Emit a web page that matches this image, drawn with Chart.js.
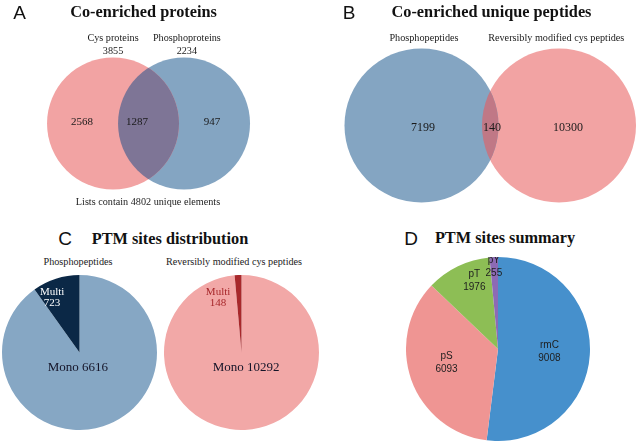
<!DOCTYPE html>
<html>
<head>
<meta charset="utf-8">
<script src="https://cdn.jsdelivr.net/npm/chart.js@4.4.1/dist/chart.umd.min.js"></script>
<style>
  html, body { margin: 0; padding: 0; background: #ffffff; }
  #stage { position: relative; width: 640px; height: 441px; overflow: hidden; background: #fff; }
  canvas { position: absolute; }
  .t { position: absolute; transform: translate(-50%, -50%); white-space: nowrap; color: #1a1a1a; line-height: 1; }
  .letter { font-family: "Liberation Sans", Arial, sans-serif; font-size: 19px; color: #111; }
  .title { font-family: "Liberation Serif", "Times New Roman", serif; font-weight: bold; font-size: 16.3px; color: #111; }
  .sub { font-family: "Liberation Serif", "Times New Roman", serif; font-size: 10.2px; color: #222; }
</style>
</head>
<body>
<div id="stage">
  <canvas id="vennA" width="320" height="220" style="left:0;top:0;width:320px;height:220px"></canvas>
  <canvas id="vennB" width="320" height="220" style="left:320px;top:0;width:320px;height:220px"></canvas>
  <canvas id="pieC1" width="155" height="155" style="left:2px;top:275px;width:155px;height:155px"></canvas>
  <canvas id="pieC2" width="155" height="155" style="left:164px;top:275px;width:155px;height:155px"></canvas>
  <canvas id="pieD" width="184" height="184" style="left:406px;top:257px;width:184px;height:184px"></canvas>
</div>
<script>
// ---------------- DATA ----------------
const panelLetters = ['A', 'B', 'C', 'D'];
const panelTitles = ['Co-enriched proteins', 'Co-enriched unique peptides', 'PTM sites distribution', 'PTM sites summary'];

// Panel A: Venn of proteins
const vennASets = ['Cys proteins', 'Phosphoproteins'];
const vennATotals = [3855, 2234];
const vennARegions = [2568, 1287, 947];       // Cys only, both, Phospho only
const vennAUnique = 4802;

// Panel B: Venn of unique peptides
const vennBSets = ['Phosphopeptides', 'Reversibly modified cys peptides'];
const vennBRegions = [7199, 140, 10300];      // Phospho only, both, Cys only

// Panel C: PTM sites distribution
const siteTypes = ['Mono', 'Multi'];
const pieCNames = ['Phosphopeptides', 'Reversibly modified cys peptides'];
const phosphoSites = [6616, 723];
const cysSites = [10292, 148];

// Panel D: PTM sites summary
const summaryLabels = ['rmC', 'pS', 'pT', 'pY'];
const summaryValues = [9008, 6093, 1976, 255];

// ---------------- STYLE ----------------
const PINK = '#f2a3a3', BLUE = '#84a5c2';
const SERIF = '"Liberation Serif", "Times New Roman", serif';
const SANS = '"Liberation Sans", Arial, sans-serif';

const stage = document.getElementById('stage');
function place(text, x, y, cls, extra) {
  const d = document.createElement('div');
  d.className = 't ' + cls;
  d.textContent = text;
  d.style.left = x + 'px';
  d.style.top = y + 'px';
  if (extra) Object.assign(d.style, extra);
  stage.appendChild(d);
}

// Headings (real HTML text)
place(panelLetters[0], 19.5, 11.5, 'letter');
place(panelLetters[1], 349, 11.5, 'letter');
place(panelLetters[2], 65, 238, 'letter');
place(panelLetters[3], 411, 238, 'letter');
place(panelTitles[0], 143.5, 12, 'title');
place(panelTitles[1], 491.5, 12, 'title');
place(panelTitles[2], 170, 238.5, 'title');
place(panelTitles[3], 505, 238, 'title');
place('Lists contain ' + vennAUnique + ' unique elements', 148, 202, 'sub');
place(pieCNames[0], 78, 262, 'sub');
place(pieCNames[1], 234, 262, 'sub');

Chart.defaults.animation = false;
Chart.defaults.events = [];
Chart.defaults.plugins.legend.display = false;
Chart.defaults.plugins.tooltip.enabled = false;

// ---------------- VENN (bubble chart) ----------------
function vennPlugin(spec) {
  return {
    id: 'venn',
    afterDatasetsDraw(chart) {
      const ctx = chart.ctx;
      const a = chart.getDatasetMeta(0).data[0];
      const b = chart.getDatasetMeta(1).data[0];
      ctx.save();
      ctx.beginPath(); ctx.arc(a.x, a.y, a.options.radius, 0, Math.PI * 2); ctx.clip();
      ctx.beginPath(); ctx.arc(b.x, b.y, b.options.radius, 0, Math.PI * 2);
      ctx.fillStyle = spec.overlapColor; ctx.fill();
      ctx.restore();

      const xs = chart.scales.x;
      ctx.save();
      ctx.fillStyle = '#1a1a1a';
      ctx.textAlign = 'center';
      ctx.textBaseline = 'middle';
      ctx.font = spec.numberFont;
      spec.regions.forEach((v, i) => {
        ctx.fillText(String(v), xs.getPixelForValue(spec.regionX[i]), a.y + spec.numberDy);
      });
      ctx.font = spec.headerFont;
      spec.headers.forEach((lines, i) => {
        lines.forEach((ln, j) => {
          ctx.fillText(ln, xs.getPixelForValue(spec.headerX[i]), spec.headerY + j * spec.headerLH);
        });
      });
      ctx.restore();
    }
  };
}

function makeVenn(id, sets, colors, radius, scaleX, scaleY, spec) {
  return new Chart(document.getElementById(id), {
    type: 'bubble',
    data: {
      datasets: sets.map((s, i) => ({
        label: s,
        data: [{ x: i, y: 0 }],
        backgroundColor: colors[i],
        borderWidth: 0,
        radius: radius,
        clip: false
      }))
    },
    options: {
      responsive: false,
      layout: { padding: 0, autoPadding: false },
      scales: {
        x: { type: 'linear', display: false, min: scaleX[0], max: scaleX[1] },
        y: { type: 'linear', display: false, min: scaleY[0], max: scaleY[1] }
      }
    },
    plugins: [vennPlugin(spec)]
  });
}

makeVenn('vennA', vennASets, [PINK, BLUE], 66, [-1.592, 2.915], [-0.965, 1.235], {
  overlapColor: '#7e7596',
  regions: vennARegions,
  regionX: [-0.437, 0.338, 1.394],
  numberFont: '11px ' + SERIF,
  numberDy: -1,
  headers: vennASets.map((s, i) => [s, String(vennATotals[i])]),
  headerX: [0, 1.04],
  headerY: 38.5,
  headerLH: 13,
  headerFont: '10.2px ' + SERIF
});

makeVenn('vennB', vennBSets, [BLUE, PINK], 77, [-0.738, 1.589], [-0.945, 1.255], {
  overlapColor: '#c07886',
  regions: vennBRegions,
  regionX: [0.011, 0.513, 1.065],
  numberFont: '12px ' + SERIF,
  numberDy: 2.5,
  headers: vennBSets.map(s => [s]),
  headerX: [0.018, 0.98],
  headerY: 38.5,
  headerLH: 13,
  headerFont: '10.2px ' + SERIF
});

// ---------------- PIES ----------------
function pieLabelPlugin(spec) {
  return {
    id: 'pieLabels',
    afterDatasetsDraw(chart) {
      const ctx = chart.ctx;
      const meta = chart.getDatasetMeta(0);
      ctx.save();
      ctx.textAlign = 'center';
      ctx.textBaseline = 'middle';
      meta.data.forEach((arc, i) => {
        const L = spec.labels[i];
        const mid = (arc.startAngle + arc.endAngle) / 2 + L.offset * Math.PI / 180;
        const r = arc.outerRadius * L.frac;
        const x = arc.x + Math.cos(mid) * r;
        const y = arc.y + Math.sin(mid) * r;
        ctx.font = L.font;
        ctx.fillStyle = L.color;
        const lines = L.lines;
        const y0 = y - (lines.length - 1) * L.lh / 2;
        lines.forEach((ln, j) => ctx.fillText(ln, x, y0 + j * L.lh));
      });
      ctx.restore();
    }
  };
}

function makePie(id, labels, values, colors, labelSpec) {
  return new Chart(document.getElementById(id), {
    type: 'pie',
    data: {
      labels: labels,
      datasets: [{ data: values, backgroundColor: colors, borderWidth: 0 }]
    },
    options: { responsive: false, layout: { padding: 0, autoPadding: false } },
    plugins: [pieLabelPlugin({ labels: labelSpec })]
  });
}

makePie('pieC1', siteTypes, phosphoSites, ['#86a7c4', '#0b2846'], [
  { lines: [siteTypes[0] + ' ' + phosphoSites[0]], offset: 23.75, frac: 0.19, font: '13px ' + SERIF, color: '#141428', lh: 13 },
  { lines: [siteTypes[1], String(phosphoSites[1])], offset: -8.85, frac: 0.79, font: '11px ' + SERIF, color: '#ffffff', lh: 11.5 }
]);

makePie('pieC2', siteTypes, cysSites, ['#f2a8a7', '#a7282b'], [
  { lines: [siteTypes[0] + ' ' + cysSites[0]], offset: -14.65, frac: 0.2, font: '13px ' + SERIF, color: '#141428', lh: 13 },
  { lines: [siteTypes[1], String(cysSites[1])], offset: -20.55, frac: 0.77, font: '11px ' + SERIF, color: '#a7282b', lh: 11.5 }
]);

const dFont = '10px ' + SANS;
makePie('pieD', summaryLabels, summaryValues, ['#4690cc', '#ef9593', '#8dbe55', '#8d6ab5'],
  summaryLabels.map((s, i) => ({
    lines: [s, String(summaryValues[i])],
    offset: [0, 4.4, 6.8, -0.2][i],
    frac: [0.56, 0.58, 0.79, 0.9][i],
    font: dFont, color: '#1e1e1e', lh: 13
  })));
</script>
</body>
</html>
